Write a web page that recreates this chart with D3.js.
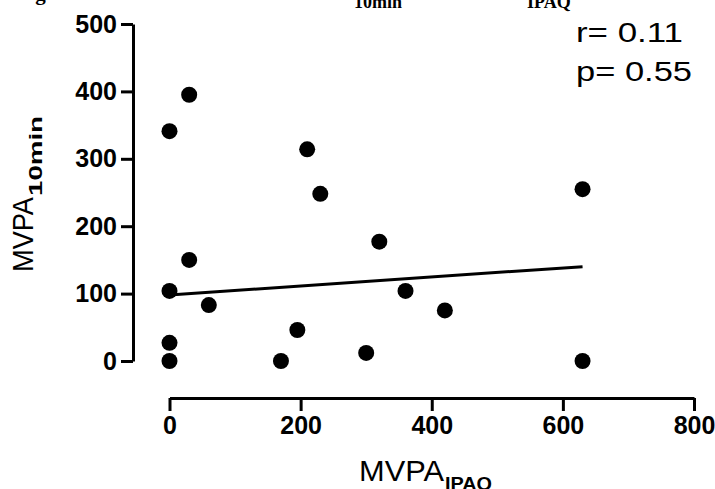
<!DOCTYPE html>
<html>
<head>
<meta charset="utf-8">
<script src="https://cdn.jsdelivr.net/npm/d3@7"></script>
<style>
  body { margin: 0; background: #fff; }
  svg { display: block; }
</style>
</head>
<body>
<svg id="chart" width="715" height="489"></svg>
<script>
// values (MVPA from IPAQ vs MVPA in 10 min bouts)
const ipaq   = [30, 0, 210, 230, 320, 30, 0, 60, 360, 420, 0, 0, 195, 170, 300, 630, 630];
const min10  = [395, 341, 314, 248, 177, 150, 104, 83, 104, 75, 27, 0, 46, 0, 12, 255, 0];

// regression line end points
const fitX = [0, 630];
const fitY = [98, 140];

const xTicks = [0, 200, 400, 600, 800];
const yTicks = [0, 100, 200, 300, 400, 500];

const statLines = ["r= 0.11", "p= 0.55"];

var svg = d3.select("#chart");

// scales
var x = d3.scaleLinear().domain([0, 800]).range([169.5, 694]);
var y = d3.scaleLinear().domain([0, 500]).range([361, 24]);

const tickFont = "'Liberation Sans', Arial, sans-serif";

// title line is cut off at the top of the image, only its bottom shows
var titleG = svg.append("g")
  .style("font-family", "'Liberation Serif', 'Times New Roman', serif")
  .style("font-weight", "bold")
  .style("fill", "#000");
titleG.append("text").attr("x", 352).attr("y", -0.5).attr("text-anchor", "end")
  .style("font-size", "21px").text("Figure 2. Correlation between MVPA");
titleG.append("text").attr("x", 354).attr("y", 8)
  .style("font-size", "18px").text("10min");
titleG.append("text").attr("x", 524).attr("y", -0.5).attr("text-anchor", "end")
  .style("font-size", "21px").text(" and MVPA");
titleG.append("text").attr("x", 527).attr("y", 8)
  .style("font-size", "18px").text("IPAQ");

// y axis
var yAxis = svg.append("g")
  .attr("transform", "translate(133,0)")
  .call(d3.axisLeft(y).tickValues(yTicks).tickSize(12).tickSizeOuter(0).tickPadding(4));

// x axis (detached below the plot, prism style)
var xAxis = svg.append("g")
  .attr("transform", "translate(0,398)")
  .call(d3.axisBottom(x).tickValues(xTicks).tickSize(13).tickSizeOuter(0).tickPadding(5));

[yAxis, xAxis].forEach(function (g) {
  g.select(".domain").style("stroke", "#000").style("stroke-width", 3);
  g.selectAll(".tick line").style("stroke", "#000").style("stroke-width", 3);
  g.selectAll(".tick text")
    .style("font-family", tickFont)
    .style("font-weight", "bold")
    .style("font-size", "25px")
    .style("fill", "#000");
});

// axis titles
var titles = svg.append("g").style("font-family", tickFont).style("fill", "#000");

titles.append("text")
  .attr("x", 359).attr("y", 481)
  .attr("textLength", 85).attr("lengthAdjust", "spacingAndGlyphs")
  .style("font-size", "30px").text("MVPA");
titles.append("text")
  .attr("x", 445).attr("y", 490)
  .attr("textLength", 47).attr("lengthAdjust", "spacingAndGlyphs")
  .style("font-size", "19px").style("font-weight", "bold").text("IPAQ");

titles.append("text")
  .attr("transform", "translate(33,272) rotate(-90)")
  .attr("textLength", 75).attr("lengthAdjust", "spacingAndGlyphs")
  .style("font-size", "30px").text("MVPA");
titles.append("text")
  .attr("transform", "translate(42,196) rotate(-90)")
  .attr("textLength", 80).attr("lengthAdjust", "spacingAndGlyphs")
  .style("font-size", "19px").style("font-weight", "bold").text("10min");

// regression line
var line = d3.line()
  .x(function (d) { return x(d[0]); })
  .y(function (d) { return y(d[1]); });

svg.append("path")
  .datum(d3.zip(fitX, fitY))
  .attr("d", line)
  .style("fill", "none")
  .style("stroke", "#000")
  .style("stroke-width", 3);

// points
svg.append("g").selectAll("circle")
  .data(d3.zip(ipaq, min10))
  .join("circle")
  .attr("cx", function (d) { return x(d[0]); })
  .attr("cy", function (d) { return y(d[1]); })
  .attr("r", 8)
  .style("fill", "#000");

// r and p values
svg.append("g").selectAll("text")
  .data(statLines)
  .join("text")
  .attr("x", 576)
  .attr("y", function (d, i) { return 42 + i * 39; })
  .attr("textLength", function (d, i) { return i === 0 ? 107 : 116; })
  .attr("lengthAdjust", "spacingAndGlyphs")
  .style("font-family", tickFont)
  .style("font-size", "28px")
  .style("fill", "#000")
  .text(function (d) { return d; });
</script>
</body>
</html>
